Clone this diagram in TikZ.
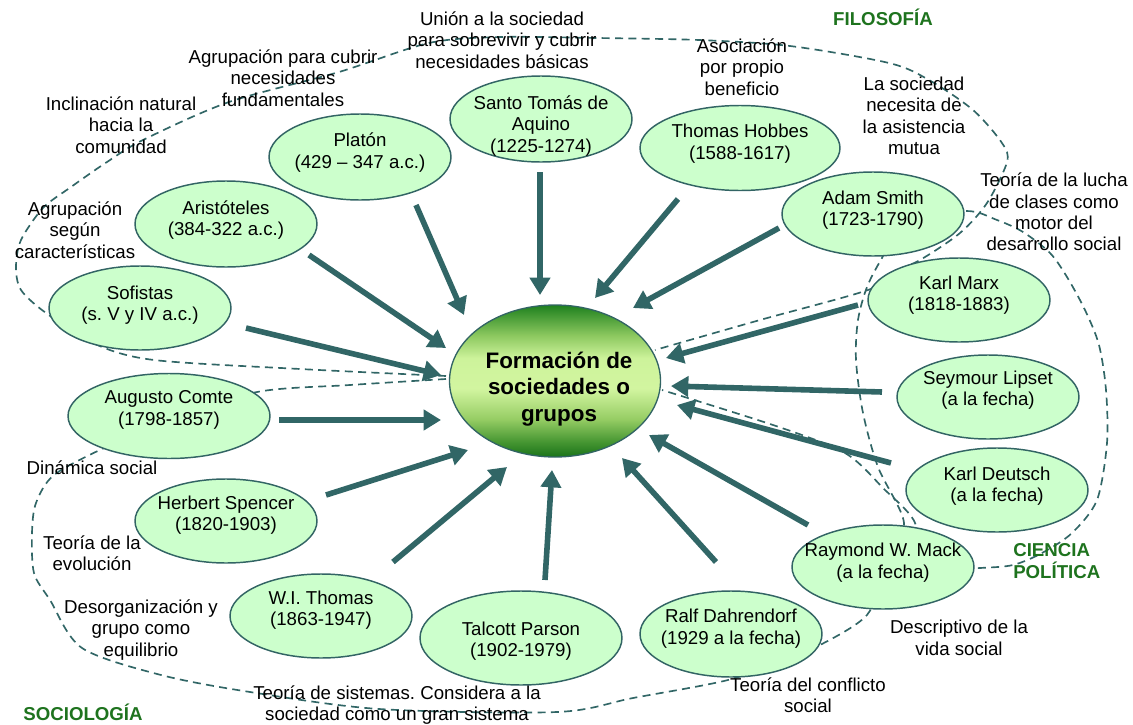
\documentclass[tikz,border=0pt]{standalone}
\usepackage{fontspec}
\setmainfont{Liberation Sans}
\usetikzlibrary{shapes.geometric,arrows.meta}
\frenchspacing

\definecolor{linkcol}{RGB}{49,102,102}
\definecolor{edgec}{RGB}{50,100,100}
\definecolor{fillc}{RGB}{204,255,204}
\definecolor{areac}{RGB}{30,115,30}
% colours of the central gradient, bottom to top
\definecolor{gA}{RGB}{25,115,25}
\definecolor{gB}{RGB}{70,150,50}
\definecolor{gC}{RGB}{150,205,100}
\definecolor{gE}{RGB}{210,245,160}
\definecolor{gF}{RGB}{205,243,155}
\definecolor{gG}{RGB}{140,200,95}
\definecolor{gD}{RGB}{30,128,30}
\pgfdeclareverticalshading{coreshade}{100bp}{color(0bp)=(gA); color(25bp)=(gA); color(30bp)=(gB); color(37.5bp)=(gC); color(47.5bp)=(gE); color(57.5bp)=(gF); color(65bp)=(gG); color(75bp)=(gD); color(100bp)=(gD)}

\tikzset{
  person/.style={ellipse, draw=edgec, line width=1.1pt, fill=fillc, inner sep=0pt},
  semi/.style 2 args={minimum width=#1*1.5pt, minimum height=#2*1.5pt},
  ptext/.style={align=center, inner sep=0pt, font=\fontsize{14}{16.1}\selectfont},
  note/.style={align=center, inner sep=0pt, font=\fontsize{14}{16.1}\selectfont},
  area/.style={align=left, inner sep=0pt, text=areac, font=\fontsize{14}{16.1}\selectfont\bfseries},
  zone/.style={draw=linkcol, line width=1.25pt, dash pattern=on 6pt off 4pt},
  bigarrow/.style={draw=linkcol, line width=4.2pt, -{Triangle[length=13pt,width=15pt]}},
}

\begin{document}
\begin{tikzpicture}[x=0.75pt, y=-0.75pt]
\useasboundingbox (0,0) rectangle (1133,725);

% ---- dashed outlines of the three fields (behind the ellipses) ----
% philosophy
\draw[zone] plot[smooth] coordinates {(446,376) (300,369) (154,360) (95,344) (46,313) (21,290) (16,267) (21,240) (43,208) (71,187) (107,162) (143,140) (229,102) (339,72) (429,43) (500,37) (597,38) (699,40) (790,46) (889,63) (929,80) (973,110) (1002,143) (1007,162) (987,203) (960,233) (920,260) (889,274) (868,290) (760,320) (655,350)};
% sociology
\draw[zone] plot[smooth] coordinates {(446,379) (350,385) (257,392) (170,420) (104,448) (54,475) (36,503) (32,533) (34,573) (50,600) (82,648) (161,675) (250,692) (379,709) (557,712) (633,698) (728,680) (780,660) (820,645) (867,615) (885,570) (916,527) (882,487) (845,453) (779,427) (662,390)};
% political science
\draw[zone] plot[smooth] coordinates {(885,560) (904,523) (878,467) (863,413) (856,360) (858,320) (867,287) (882,258) (905,222) (966,211) (997,220) (1023,232) (1050,253) (1067,277) (1085,310) (1099,345) (1106,390) (1107,443) (1097,500) (1072,533) (1042,553) (1013,565) (980,568) (930,570)};

% ---- central node ----
\node[ellipse, draw=edgec, line width=1pt, shading=coreshade, inner sep=0pt, semi={105.5}{76}] (core) at (555,381) {};
\node[align=center, inner sep=0pt, font=\fontsize{16.8}{19.9}\selectfont\bfseries] (core-t) at (559,389) {Formación de\\sociedades o\\grupos};

% ---- thinkers ----
\node[person, semi={91}{43}] (santo) at (541,119) {};
\node[ptext] (santo-t) at (541,126) {Santo Tomás de\\Aquino\\(1225-1274)};
\node[person, semi={91}{43}] (platon) at (360,157) {};
\node[ptext] (platon-t) at (360,152.5) {Platón\\(429 – 347 a.c.)};
\node[person, semi={91}{43}] (aristo) at (226,224) {};
\node[ptext] (aristo-t) at (226,220) {Aristóteles\\(384-322 a.c.)};
\node[person, semi={91}{42}] (sofistas) at (140,308) {};
\node[ptext] (sofistas-t) at (140,305) {Sofistas\\(s. V y IV a.c.)};
\node[person, semi={100}{42.5}] (hobbes) at (740,148) {};
\node[ptext] (hobbes-t) at (740,143.5) {Thomas Hobbes\\(1588-1617)};
\node[person, semi={91}{42}] (smith) at (873,214) {};
\node[ptext] (smith-t) at (873,210) {Adam Smith\\(1723-1790)};
\node[person, semi={91}{42}] (marx) at (959,300) {};
\node[ptext] (marx-t) at (959,295) {Karl Marx\\(1818-1883)};
\node[person, semi={91}{42}] (lipset) at (988,397) {};
\node[ptext] (lipset-t) at (988,390) {Seymour Lipset\\(a la fecha)};
\node[person, semi={91}{42}] (deutsch) at (997,490) {};
\node[ptext] (deutsch-t) at (997,486) {Karl Deutsch\\(a la fecha)};
\node[person, semi={91}{42}] (raymond) at (883,567) {};
\node[ptext] (raymond-t) at (883,562.5) {Raymond W. Mack\\(a la fecha)};
\node[person, semi={91}{43}] (ralf) at (731,634) {};
\node[ptext] (ralf-t) at (731,628.5) {Ralf Dahrendorf\\(1929 a la fecha)};
\node[person, semi={101}{47}] (talcott) at (521,638) {};
\node[ptext] (talcott-t) at (521,641) {Talcott Parson\\(1902-1979)};
\node[person, semi={91}{42}] (thomas) at (321,616) {};
\node[ptext] (thomas-t) at (321,610) {W.I. Thomas\\(1863-1947)};
\node[person, semi={91}{42}] (spencer) at (226,521) {};
\node[ptext] (spencer-t) at (226,515) {Herbert Spencer\\(1820-1903)};
\node[person, semi={101}{42.5}] (comte) at (169,416) {};
\node[ptext] (comte-t) at (169,410) {Augusto Comte\\(1798-1857)};

% ---- arrows towards the central idea ----
\draw[bigarrow] ([shift={(-1,53)}]santo.center) -- ([shift={(-15,-86)}]core.center);
\draw[bigarrow] ([shift={(56,48)}]platon.center) -- ([shift={(-91,-66)}]core.center);
\draw[bigarrow] ([shift={(83,31)}]aristo.center) -- ([shift={(-109,-33)}]core.center);
\draw[bigarrow] ([shift={(106,20)}]sofistas.center) -- ([shift={(-114,-6)}]core.center);
\draw[bigarrow] ([shift={(-62,51)}]hobbes.center) -- ([shift={(40,-83)}]core.center);
\draw[bigarrow] ([shift={(-94,14)}]smith.center) -- ([shift={(78,-73)}]core.center);
\draw[bigarrow] ([shift={(-101,5)}]marx.center) -- ([shift={(111,-23)}]core.center);
\draw[bigarrow] ([shift={(-106,-5)}]lipset.center) -- ([shift={(116,5)}]core.center);
\draw[bigarrow] ([shift={(-106,-27)}]deutsch.center) -- ([shift={(122,24)}]core.center);
\draw[bigarrow] ([shift={(-75,-42)}]raymond.center) -- ([shift={(94,54)}]core.center);
\draw[bigarrow] ([shift={(-15,-72)}]ralf.center) -- ([shift={(67,77)}]core.center);
\draw[bigarrow] ([shift={(24,-58)}]talcott.center) -- ([shift={(-3,89)}]core.center);
\draw[bigarrow] ([shift={(72,-54)}]thomas.center) -- ([shift={(-48,86)}]core.center);
\draw[bigarrow] ([shift={(100,-26)}]spencer.center) -- ([shift={(-87,69)}]core.center);
\draw[bigarrow] ([shift={(110,4)}]comte.center) -- ([shift={(-114,39)}]core.center);

% ---- notes on each contribution ----
\node[note] (n-union) at (502,40) {Unión a la sociedad\\para sobrevivir y cubrir\\necesidades básicas};
\node[note] (n-agrup) at (283,78) {Agrupación para cubrir\\necesidades\\fundamentales};
\node[note] (n-incl) at (121,125) {Inclinación natural\\hacia la\\comunidad};
\node[note] (n-caract) at (75,230) {Agrupación\\según\\características};
\node[note] (n-asoc) at (742,67) {Asociación\\por propio\\beneficio};
\node[note] (n-mutua) at (914,116) {La sociedad\\necesita de\\la asistencia\\mutua};
\node[note] (n-lucha) at (1054,212) {Teoría de la lucha\\de clases como\\motor del\\desarrollo social};
\node[note] (n-dinam) at (92,468) {Dinámica social};
\node[note] (n-evol) at (92,553) {Teoría de la\\evolución};
\node[note] (n-desorg) at (141,630) {Desorganización y\\grupo como\\equilibrio};
\node[note] (n-sist) at (397,705) {Teoría de sistemas. Considera a la\\sociedad como un gran sistema};
\node[note] (n-confl) at (808,695) {Teoría del conflicto\\social};
\node[note] (n-descr) at (959,638) {Descriptivo de la\\vida social};

% ---- field names ----
\node[area] (a-filo) at (883,17) {FILOSOFÍA};
\node[area] (a-soc) at (83,712) {SOCIOLOGÍA};
\node[area, anchor=west] (a-cp) at (1013,561) {CIENCIA\\POLÍTICA};
\end{tikzpicture}
\end{document}
